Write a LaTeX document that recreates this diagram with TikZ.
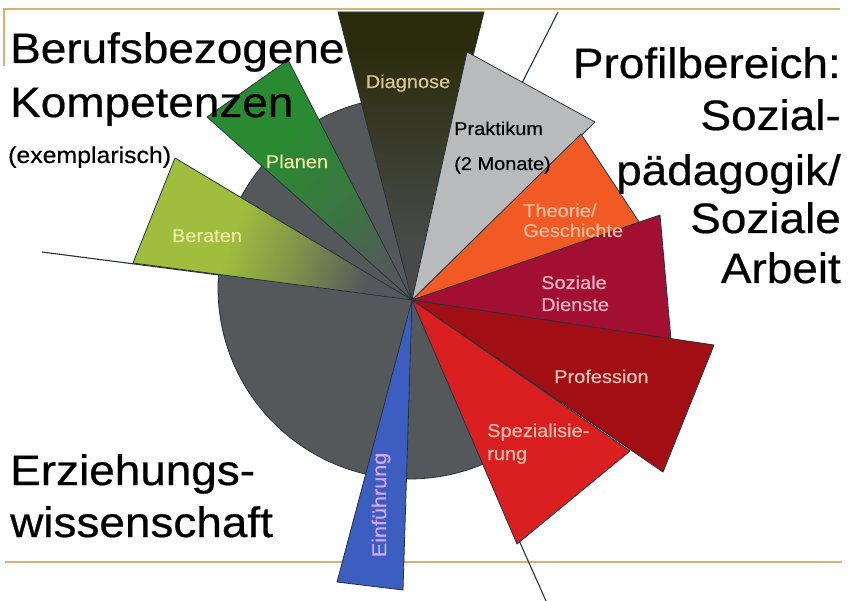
\documentclass[tikz,border=0pt]{standalone}
\usepackage{fontspec}
\setmainfont[FakeStretch=1.08,FakeBold=0.5]{Liberation Sans}
\definecolor{cgray}{HTML}{54585A}
\definecolor{berg}{HTML}{A0BE3E}
\colorlet{bermid}{berg!55!cgray}
\definecolor{plang}{HTML}{2A8A32}
\colorlet{planmid}{plang!55!cgray}
\definecolor{diag}{HTML}{2B2C0C}
\definecolor{diaggray}{HTML}{474A48}
\definecolor{prak}{HTML}{B8BABC}
\definecolor{theo}{HTML}{F15A24}
\definecolor{sozd}{HTML}{A30F32}
\definecolor{prof}{HTML}{A10E14}
\definecolor{spez}{HTML}{D91F20}
\definecolor{einf}{HTML}{3B5EC0}
\definecolor{framec}{HTML}{D9B272}
\definecolor{edge}{HTML}{26333D}
\definecolor{lblyellow}{HTML}{EDE8A6}
\definecolor{lbltan}{HTML}{D9C497}
\definecolor{lblpeach}{HTML}{F9C0A0}
\definecolor{lblpink}{HTML}{E8B8C0}
\definecolor{lblprof}{HTML}{F2C4B4}
\definecolor{lblspez}{HTML}{F6C0B0}
\definecolor{lbllav}{HTML}{D7A6EC}
\pgfdeclareverticalshading{beratshade}{100bp}{color(0bp)=(cgray); color(54bp)=(cgray); color(60bp)=(bermid); color(66bp)=(berg); color(100bp)=(berg)}
\pgfdeclareverticalshading{planshade}{100bp}{color(0bp)=(cgray); color(53bp)=(cgray); color(59bp)=(planmid); color(67bp)=(plang); color(100bp)=(plang)}
\pgfdeclareverticalshading{diagshade}{100bp}{color(0bp)=(diaggray); color(55bp)=(diaggray); color(71bp)=(diag); color(100bp)=(diag)}
\begin{document}
\begin{tikzpicture}[x=1pt,y=-1pt,
  wedge/.style={draw=edge, line width=0.8pt, line join=round},
  rayline/.style={draw=edge, line width=1.1pt},
  frameline/.style={draw=framec, line width=2.2pt},
  bigtxt/.style={inner sep=0pt, font=\fontsize{42.5}{50}\selectfont, text=black},
  midtxt/.style={inner sep=0pt, font=\fontsize{23}{27}\selectfont, text=black},
  wlabel/.style={inner sep=0pt, font=\fontsize{18.5}{22}\selectfont}]
\useasboundingbox (0,0) rectangle (848,601);
\fill[white] (0,0) rectangle (848,601);
% frame lines
\draw[frameline] (4,66) -- (4,9) -- (840,9);
\draw[frameline] (5,562) -- (842,562);
% centre and rays
\coordinate (C) at (412,300);
\coordinate (rl) at (42,252);
\coordinate (ru) at (558,12);
\coordinate (rd) at (546,601);
\draw[rayline] (C) -- (rl);
\draw[rayline] (C) -- (ru);
\draw[rayline] (C) -- (rd);
% grey disc
\filldraw[fill=cgray, draw=edge, line width=0.8pt] (409,288) circle (191);
% wedge corners
\coordinate (b1) at (133,263); \coordinate (b2) at (175,158);
\coordinate (p1) at (207,117); \coordinate (p2) at (288,60);
\coordinate (d1) at (338,12);  \coordinate (d2) at (484,12);
\coordinate (k1) at (467,52);  \coordinate (k2) at (595,122);
\coordinate (t1) at (581,134); \coordinate (t2) at (643,228);
\coordinate (s1) at (660,215); \coordinate (s2) at (671,340);
\coordinate (f1) at (714,345); \coordinate (f2) at (663,472);
\coordinate (z1) at (630,451); \coordinate (z2) at (517,544);
\coordinate (e1) at (403,590); \coordinate (e2) at (337,582);
% shaded wedges
\begin{scope}
  \clip (C) -- (b1) -- (b2) -- cycle;
  \shade[shading=beratshade, shading angle=70.9] (112,0) rectangle (712,600);
\end{scope}
\draw[wedge] (C) -- (b1) -- (b2) -- cycle;
\begin{scope}
  \clip (C) -- (p1) -- (p2) -- cycle;
  \shade[shading=planshade, shading angle=37.9] (112,0) rectangle (712,600);
\end{scope}
\draw[wedge] (C) -- (p1) -- (p2) -- cycle;
\begin{scope}
  \clip (C) -- (d1) -- (d2) -- cycle;
  \shade[shading=diagshade, shading angle=0] (112,0) rectangle (712,600);
\end{scope}
\draw[wedge] (C) -- (d1) -- (d2) -- cycle;
% plain wedges
\filldraw[wedge, fill=prak] (C) -- (k1) -- (k2) -- cycle;
\filldraw[wedge, fill=theo] (C) -- (t1) -- (t2) -- cycle;
\filldraw[wedge, fill=sozd] (C) -- (s1) -- (s2) -- cycle;
\filldraw[wedge, fill=prof] (C) -- (f1) -- (f2) -- cycle;
\filldraw[wedge, fill=spez] (C) -- (z1) -- (z2) -- cycle;
\filldraw[wedge, fill=einf] (C) -- (e1) -- (e2) -- cycle;
% wedge labels
\node[wlabel, text=lbltan, anchor=base] (ldiag) at (408,88) {Diagnose};
\node[wlabel, text=lblyellow, anchor=base] (lplan) at (297,168) {Planen};
\node[wlabel, text=lblyellow, anchor=base] (lber) at (207,242) {Beraten};
\node[wlabel, text=black, anchor=base west] (lprak) at (454,135) {Praktikum};
\node[wlabel, text=black, anchor=base west] (lmon) at (454,170) {(2 Monate)};
\node[wlabel, text=lblpeach, anchor=base west] (lth1) at (523,217) {Theorie/};
\node[wlabel, text=lblpeach, anchor=base west] (lth2) at (523,237) {Geschichte};
\node[wlabel, text=lblpink, anchor=base west] (lsd1) at (541,289) {Soziale};
\node[wlabel, text=lblpink, anchor=base west] (lsd2) at (541,311) {Dienste};
\node[wlabel, text=lblprof, anchor=base west] (lprof) at (554,383) {Profession};
\node[wlabel, text=lblspez, anchor=base west] (lsp1) at (487,437) {Spezialisie-};
\node[wlabel, text=lblspez, anchor=base west] (lsp2) at (487,460) {rung};
\node[wlabel, text=lbllav, rotate=90, anchor=center, font=\fontsize{20}{24}\selectfont] (lein) at (381,505) {Einführung};
% area titles
\node[bigtxt, anchor=base west] (ta1) at (10,63) {Berufsbezogene};
\node[bigtxt, anchor=base west] (ta2) at (10,117) {Kompetenzen};
\node[midtxt, anchor=base west] (ta3) at (8,163) {(exemplarisch)};
\node[bigtxt, anchor=base east] (tb1) at (841,78) {Profilbereich:};
\node[bigtxt, anchor=base east] (tb2) at (841,130) {Sozial-};
\node[bigtxt, anchor=base east] (tb3) at (841,185) {pädagogik/};
\node[bigtxt, anchor=base east] (tb4) at (841,233) {Soziale};
\node[bigtxt, anchor=base east] (tb5) at (841,283) {Arbeit};
\node[bigtxt, anchor=base west] (tc1) at (10,485) {Erziehungs-};
\node[bigtxt, anchor=base west] (tc2) at (10,537) {wissenschaft};
\end{tikzpicture}
\end{document}
